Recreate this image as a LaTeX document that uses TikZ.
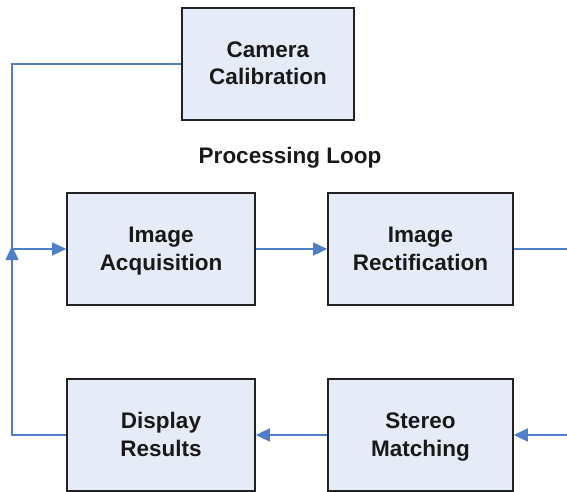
\documentclass[tikz,border=0pt]{standalone}
\usepackage{fontspec}
\setmainfont{Liberation Sans}
\usetikzlibrary{arrows.meta}
\definecolor{boxfill}{HTML}{E6ECF7}
\definecolor{boxline}{HTML}{222222}
\definecolor{wire}{HTML}{4F7FC8}
\newcommand\lnstrut{\rule[-6pt]{0pt}{26pt}}
\tikzset{
  stage/.style={draw=boxline, fill=boxfill, line width=1.6pt, inner sep=0pt,
    minimum height=112pt, align=center, text=black!90,
    font=\fontsize{22.5}{28}\selectfont\bfseries},
  wireline/.style={draw=wire, line width=1.4pt},
  wirearrow/.style={wireline, -{Triangle[length=14pt,width=13pt]}}
}
\begin{document}
\begin{tikzpicture}[x=1pt,y=-1pt]
\useasboundingbox (0,0) rectangle (567,492);
\node[stage, minimum width=172pt] (cam) at (268,64) {\lnstrut Camera\\\lnstrut Calibration};
\node[stage, minimum width=188pt] (acq) at (161,249) {\lnstrut Image\\\lnstrut Acquisition};
\node[stage, minimum width=185pt] (rect) at (420.5,249) {\lnstrut Image\\\lnstrut Rectification};
\node[stage, minimum width=188pt] (disp) at (161,435) {\lnstrut Display\\\lnstrut Results};
\node[stage, minimum width=185pt] (stereo) at (420.5,435) {\lnstrut Stereo\\\lnstrut Matching};
\node[font=\fontsize{22.5}{28}\selectfont\bfseries, text=black!90] (loop) at (290,158) {Processing Loop};
\coordinate (junc) at (12,249);
\coordinate (rout) at (567,249);
\coordinate (rin) at (567,435);
\draw[wireline] (cam.west) -| (junc);
\draw[wirearrow] (disp.west) -| ([yshift=3pt]junc);
\draw[wirearrow] (junc) -- (acq.west);
\draw[wirearrow] (acq.east) -- (rect.west);
\draw[wireline] (rect.east) -- (rout);
\draw[wirearrow] (rin) -- (stereo.east);
\draw[wirearrow] (stereo.west) -- (disp.east);
\end{tikzpicture}
\end{document}
